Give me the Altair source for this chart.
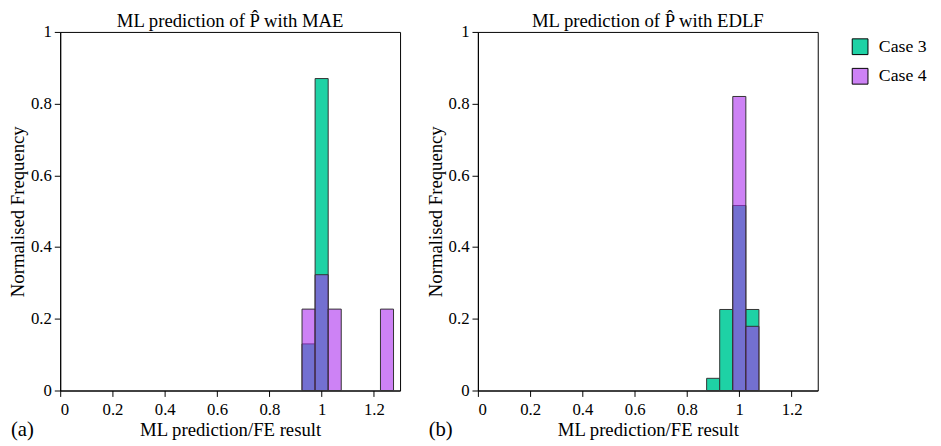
import altair as alt
import pandas as pd

# ---- data ----
cases = ["Case 3", "Case 4"]
bin_width = 0.05

mae_case3_bins = [0.925, 0.975]
mae_case3_freq = [0.13, 0.87]
mae_case4_bins = [0.925, 0.975, 1.025, 1.225]
mae_case4_freq = [0.227, 0.323, 0.227, 0.227]

edlf_case3_bins = [0.875, 0.925, 0.975, 1.025]
edlf_case3_freq = [0.034, 0.226, 0.516, 0.226]
edlf_case4_bins = [0.975, 1.025]
edlf_case4_freq = [0.82, 0.179]

x_ticks = [0, 0.2, 0.4, 0.6, 0.8, 1, 1.2]
y_ticks = [0, 0.2, 0.4, 0.6, 0.8, 1]

colors = ["#1ed2a5", "rgba(172,47,238,0.6)"]
FONT = "Liberation Serif, Times New Roman, serif"
W, H = 345, 364


def make_df(b3, f3, b4, f4):
    rows = []
    for b, f in zip(b3, f3):
        rows.append({"case": "Case 3", "start": b, "end": b + bin_width, "freq": f})
    for b, f in zip(b4, f4):
        rows.append({"case": "Case 4", "start": b, "end": b + bin_width, "freq": f})
    return pd.DataFrame(rows)


def panel(df, title, tag):
    bars = alt.Chart(df).mark_bar(stroke="#333333", strokeWidth=1).encode(
        x=alt.X("start:Q",
                scale=alt.Scale(domain=[0, 1.3], nice=False, zero=False),
                axis=alt.Axis(values=x_ticks, format="~g", title="ML prediction/FE result")),
        x2="end:Q",
        y=alt.Y("freq:Q", stack=None,
                scale=alt.Scale(domain=[0, 1], nice=False),
                axis=alt.Axis(values=y_ticks, format="~g", title="Normalised Frequency")),
        y2=alt.datum(0),
        color=alt.Color("case:N",
                        scale=alt.Scale(domain=cases, range=colors),
                        legend=alt.Legend(title=None)),
        order=alt.Order("case:N"),
    )
    label = alt.Chart(pd.DataFrame({"t": [tag]})).mark_text(
        font=FONT, fontSize=21, align="left", baseline="middle", color="black"
    ).encode(text="t:N", x=alt.value(-50), y=alt.value(H + 40))
    return alt.layer(bars, label).properties(
        width=W, height=H,
        title=alt.TitleParams(title, font=FONT, fontSize=19, fontWeight="normal",
                              offset=-8, frame="group"),
    )


left = panel(make_df(mae_case3_bins, mae_case3_freq, mae_case4_bins, mae_case4_freq),
             "ML prediction of P\u0302 with MAE", "(a)")
right = panel(make_df(edlf_case3_bins, edlf_case3_freq, edlf_case4_bins, edlf_case4_freq),
              "ML prediction of P\u0302 with EDLF", "(b)")

chart = alt.hconcat(left, right, spacing=25).properties(
    padding=0
).configure(
    font=FONT
).configure_view(
    stroke="black", strokeWidth=1
).configure_axis(
    grid=False,
    domainColor="black", tickColor="black", tickSize=6,
    labelFont=FONT, labelFontSize=17, labelColor="black",
    titleFont=FONT, titleFontSize=19, titleFontWeight="normal", titleColor="black",
).configure_axisY(
    labelPadding=3, titlePadding=3,
).configure_axisX(
    labelPadding=5, titlePadding=4,
).configure_legend(
    orient="right", offset=27,
    symbolType="square", symbolSize=256, symbolStrokeColor="black", symbolStrokeWidth=1,
    labelFont=FONT, labelFontSize=18, labelColor="black", labelOffset=10, rowPadding=10,
    padding=6,
)

chart.save("out.html", embed_options={"renderer": "svg", "actions": False})
